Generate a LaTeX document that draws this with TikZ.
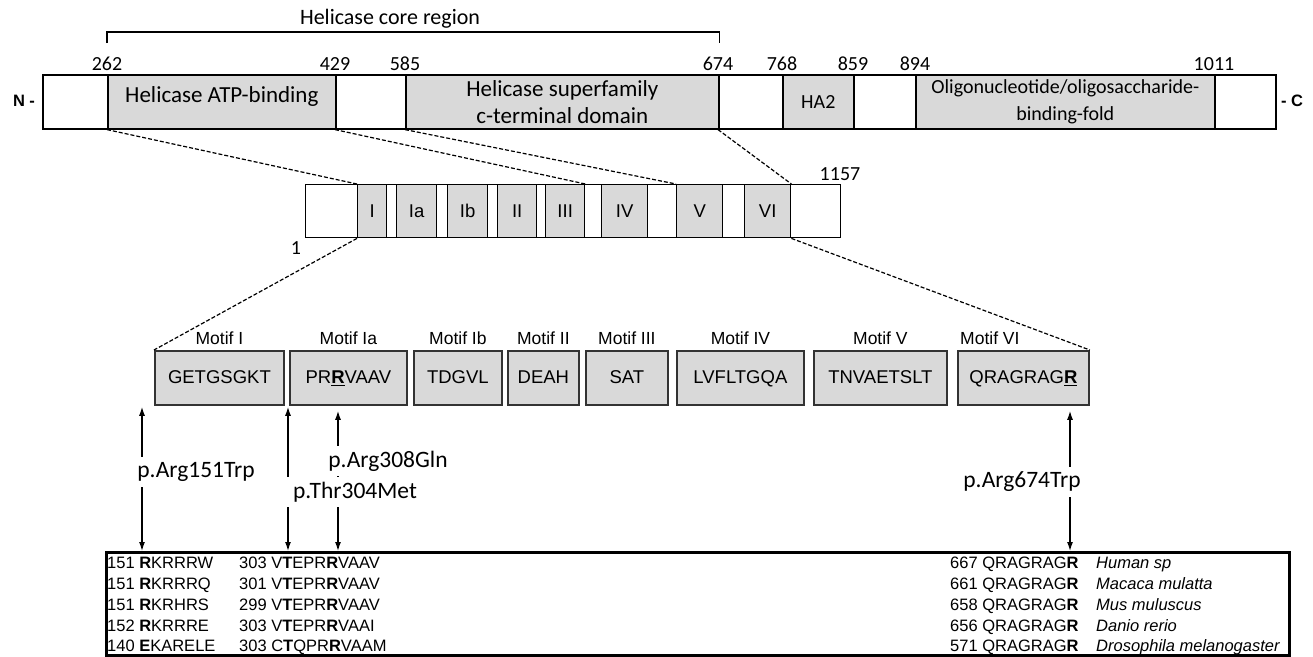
\documentclass[tikz,border=0pt]{standalone}
\usepackage{fontspec}
\setmainfont{Liberation Sans}
\newfontfamily\calibri{Carlito}
\usepackage{xcolor}
\usepackage{tikz}
\usetikzlibrary{arrows.meta,positioning,calc}

\definecolor{boxgray}{RGB}{217,217,217}
\newcommand{\smallseg}{\fontsize{20}{27}\selectfont}
\newcommand{\obtext}{\smallseg Oligonucleotide/oligosaccharide-\\\smallseg binding-fold}

\tikzset{
    seg/.style={draw, line width=1.6pt, minimum height=54pt, inner xsep=2pt, inner ysep=0pt,
        anchor=north west, align=center, font=\calibri\fontsize{23}{26.7}\selectfont},
    midseg/.style={draw, line width=1.4pt, minimum height=53pt, inner sep=1pt, anchor=north west,
        text height=13.5pt, text depth=0pt, font=\fontsize{18.5}{22}\selectfont},
    motifbox/.style={draw=black!80, line width=1.8pt, fill=boxgray, minimum height=54pt,
        inner sep=1pt, anchor=north west, text height=14pt, text depth=3pt,
        font=\fontsize{18.5}{22}\selectfont},
    motiflab/.style={anchor=base, inner sep=0pt, font=\fontsize{17.5}{20}\selectfont},
    numlab/.style={inner sep=0pt, font=\calibri\fontsize{20}{24}\selectfont},
    termlab/.style={inner sep=0pt, font=\bfseries\fontsize{16.5}{20}\selectfont},
    mutlab/.style={fill=white, inner xsep=10pt, inner ysep=5pt, font=\calibri\fontsize{23.5}{28}\selectfont},
    zoomline/.style={line width=1.2pt, dash pattern=on 4pt off 2pt},
    mutarrow/.style={line width=1.3pt, {Latex[length=9pt,width=6pt]}-{Latex[length=9pt,width=6pt]}},
    seqtxt/.style={anchor=base west, inner sep=0pt, font=\fontsize{16.5}{20}\selectfont},
}

\begin{document}
\begin{tikzpicture}[x=1pt,y=-1pt]
    \useasboundingbox (0,0) rectangle (1313,656);

    % Protein bar with domains
    \foreach \a/\b/\f/\t [count=\k] in {42/107/white/{},
        107/335/boxgray/{\raisebox{0pt}[16pt][15pt]{Helicase ATP-binding}},
        335/405/white/{}, 405/718/boxgray/{Helicase superfamily\\c-terminal domain},
        718/782/white/{}, 782/853/boxgray/{\smallseg HA2}, 853/915/white/{},
        915/1214/boxgray/{\obtext}, 1214/1275/white/{}} {
        \pgfmathsetmacro{\w}{\b-\a}
        \node[seg, fill=\f, minimum width=\w pt] (top\k) at (\a,74) {\t};
    }
    \node[termlab] (nterm) at (24,101) {N -};
    \node[termlab] (cterm) at (1292,101) {- C};

    % Domain borders
    \foreach \x/\n in {107/262, 335/429, 405/585, 718/674, 782/768, 853/859, 915/894, 1214/1011} {
        \node[numlab] (num\n) at (\x,64) {\n};
    }

    % Core region bracket
    \draw[line width=1.2pt] ([yshift=31pt]top2.north west) |- ([yshift=42pt]top4.north east)
        -- ([yshift=31pt]top4.north east);
    \node[numlab, font=\calibri\fontsize{22}{26}\selectfont] (core) at (390,19) {Helicase core region};

    % Motif bar
    \foreach \a/\b/\f/\t/\nm in {305/357/white//m0, 357/386/boxgray/I/mI, 386/396/white//m1,
        396/436/boxgray/Ia/mIa, 436/447/white//m2, 447/487/boxgray/Ib/mIb, 487/497/white//m3,
        497/536/boxgray/II/mII, 536/545/white//m4, 545/584/boxgray/III/mIII, 584/601/white//m5,
        601/647/boxgray/IV/mIV, 647/676/white//m6, 676/722/boxgray/V/mV, 722/744/white//m7,
        744/790/boxgray/VI/mVI, 790/840/white//m8} {
        \pgfmathsetmacro{\w}{\b-\a}
        \node[midseg, fill=\f, minimum width=\w pt] (\nm) at (\a,184) {\t};
    }
    \node[numlab] (numEnd) at (840,174) {1157};
    \node[numlab] (numStart) at (296,248) {1};

    % Zoom lines
    \draw[zoomline] (top2.south west) -- (mI.north west);
    \draw[zoomline] (top3.south west) -- (mIII.north east);
    \draw[zoomline] (top4.south west) -- (mV.north west);
    \draw[zoomline] (top5.south west) -- (mVI.north east);

    % Motif sequences
    \foreach \a/\b/\s/\nm in {154/283/GETGSGKT/motI, 289/406/{PR\underline{\textbf{R}}VAAV}/motIa,
        413/501/TDGVL/motIb, 507/578/DEAH/motII, 585/667/SAT/motIII, 676/803/LVFLTGQA/motIV,
        813/946/TNVAETSLT/motV, 957/1088/{QRAGRAG\underline{\textbf{R}}}/motVI} {
        \pgfmathsetmacro{\w}{\b-\a}
        \node[motifbox, minimum width=\w pt] (\nm) at (\a,350) {\s};
    }
    \foreach \nm/\lab in {motI/I, motIa/Ia, motIb/Ib, motII/II, motIII/III, motIV/IV, motV/V} {
        \node[motiflab] (lab\nm) at ($(\nm.north)+(0,-6)$) {Motif \lab};
    }
    \node[motiflab, anchor=base west] (labmotVI) at ($(motVI.north west)+(3,-6)$) {Motif VI};

    \draw[zoomline] (mI.south west) -- (motI.north west);
    \draw[zoomline] (mVI.south east) -- (motVI.north east);

    % Alignment box
    \node[draw, line width=2.5pt, minimum width=1183pt, minimum height=103pt, anchor=north west,
        inner sep=0pt] (tbl) at (105,551) {};

    % Mutation arrows
    \coordinate (a1t) at ($(motI.south west)+(-12,1)$);
    \coordinate (a2t) at ($(motIa.south west)+(-1,1)$);
    \coordinate (a3t) at ($(motIa.south west)+(49,5)$);
    \coordinate (a4t) at ($(motVI.south west)+(113,5)$);
    \foreach \c in {a1,a2,a3,a4} {
        \coordinate (\c b) at (\c t |- tbl.north);
        \draw[mutarrow] (\c t) -- (\c b);
    }
    \node[mutlab] (mut151) at (196,472) {p.Arg151Trp};
    \node[mutlab] (mut308) at (388,461) {p.Arg308Gln};
    \node[mutlab] (mut304) at (355,492) {p.Thr304Met};
    \node[mutlab] (mut674) at (1022,482) {p.Arg674Trp};

    % Alignment rows
    \foreach \ca/\cb/\cc/\cd [count=\k] in {
        {151 \textbf{R}KRRRW}/{303 V\textbf{T}EPR\textbf{R}VAAV}/{667 QRAGRAG\textbf{R}}/{Human sp},
        {151 \textbf{R}KRRRQ}/{301 V\textbf{T}EPR\textbf{R}VAAV}/{661 QRAGRAG\textbf{R}}/{Macaca mulatta},
        {151 \textbf{R}KRHRS}/{299 V\textbf{T}EPR\textbf{R}VAAV}/{658 QRAGRAG\textbf{R}}/{Mus muluscus},
        {152 \textbf{R}KRRRE}/{303 V\textbf{T}EPR\textbf{R}VAAI}/{656 QRAGRAG\textbf{R}}/{Danio rerio},
        {140 \textbf{E}KARELE}/{303 C\textbf{T}QPR\textbf{R}VAAM}/{571 QRAGRAG\textbf{R}}/{Drosophila melanogaster}} {
        \node[seqtxt] (sa\k) at (107,{548+\k*20.75}) {\ca};
        \node[seqtxt] (sb\k) at (239,{548+\k*20.75}) {\cb};
        \node[seqtxt] (sc\k) at (950,{548+\k*20.75}) {\cc};
        \node[seqtxt, font=\itshape\fontsize{16.5}{20}\selectfont] (sd\k) at (1096,{548+\k*20.75}) {\cd};
    }
\end{tikzpicture}
\end{document}
